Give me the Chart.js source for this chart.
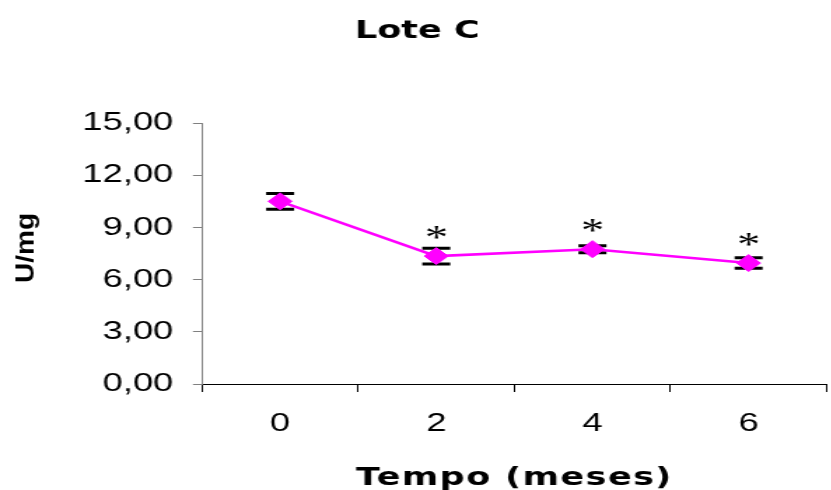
<!DOCTYPE html>
<html>
<head>
<meta charset="utf-8">
<script src="https://cdn.jsdelivr.net/npm/chart.js@4.4.1/dist/chart.umd.min.js"></script>
<style>
html, body { margin: 0; padding: 0; overflow: hidden; background: #fff; }
/* a figura original foi esticada na horizontal */
#wrap { width: 600px; height: 490px; transform: scaleX(1.4); transform-origin: 0 0; }
</style>
</head>
<body>
<div id="wrap"><canvas id="grafico" width="600" height="490"></canvas></div>
<script>
const tempos = ['0', '2', '4', '6'];
const atividade = [10.5, 7.35, 7.75, 6.95];
const desvios = [0.45, 0.45, 0.2, 0.3];
const marcas = ['', '*', '*', '*'];
const yTicks = [0, 3, 6, 9, 12, 15];
const yTickLabels = ['0,00', '3,00', '6,00', '9,00', '12,00', '15,00'];

const extras = {
	id: 'extras',
	beforeDatasetsDraw(chart) {
		const ctx = chart.ctx, x = chart.scales.x, y = chart.scales.y;
		ctx.save();
		ctx.strokeStyle = '#000';
		atividade.forEach((v, i) => {
			const px = x.getPixelForValue(i);
			const top = y.getPixelForValue(v + desvios[i]);
			const bot = y.getPixelForValue(v - desvios[i]);
			ctx.lineWidth = 1.5;
			ctx.beginPath();
			ctx.moveTo(px, top);
			ctx.lineTo(px, bot);
			ctx.stroke();
			ctx.lineWidth = 3;
			ctx.beginPath();
			ctx.moveTo(px - 10, top);
			ctx.lineTo(px + 10, top);
			ctx.moveTo(px - 10, bot);
			ctx.lineTo(px + 10, bot);
			ctx.stroke();
		});
		ctx.restore();
	},
	afterDraw(chart) {
		const ctx = chart.ctx, area = chart.chartArea, x = chart.scales.x, y = chart.scales.y;
		ctx.save();
		ctx.fillStyle = '#000';
		ctx.textAlign = 'center';
		ctx.textBaseline = 'alphabetic';
		ctx.font = 'bold 25px "DejaVu Sans"';
		ctx.fillText('Lote C', 298, 38);
		ctx.letterSpacing = '1px';
		ctx.fillText('Tempo (meses)', (area.left + area.right) / 2, 485);
		ctx.letterSpacing = '0px';

		// asteriscos acima dos pontos
		ctx.font = '33px "Liberation Serif"';
		marcas.forEach((m, i) => {
			if (!m) return;
			const px = x.getPixelForValue(i);
			const cy = y.getPixelForValue(atividade[i]) - 24;
			const mt = ctx.measureText(m);
			ctx.fillText(m, px, cy + (mt.actualBoundingBoxAscent - mt.actualBoundingBoxDescent) / 2);
		});

		// titulo do eixo y
		ctx.font = 'bold 28px "Liberation Sans"';
		ctx.translate(23.6, 248);
		ctx.scale(0.68, 1);
		ctx.rotate(-Math.PI / 2);
		ctx.fillText('U/mg', 0, 0);
		ctx.restore();
	}
};

let grafico = new Chart(document.getElementById('grafico'), {
	type: 'line',
	data: {
		labels: tempos,
		datasets: [{
			data: atividade,
			borderColor: '#FF00FF',
			backgroundColor: '#FF00FF',
			borderWidth: 2.5,
			pointStyle: 'rectRot',
			pointRadius: 8.5,
			pointBorderWidth: 1,
			tension: 0
		}]
	},
	options: {
		responsive: false,
		animation: false,
		devicePixelRatio: 1,
		layout: { padding: { top: 123, right: 2.3, left: 0, bottom: 0 } },
		plugins: { legend: { display: false }, tooltip: { enabled: false } },
		scales: {
			x: {
				offset: true,
				grid: { offset: true, drawOnChartArea: false, tickLength: 8, color: '#000' },
				border: { color: '#000', width: 1 },
				ticks: { padding: 16, color: '#000', font: { family: 'Liberation Sans', size: 26 } },
				afterFit(s) { s.height = 106; }
			},
			y: {
				min: 0,
				max: 15,
				afterBuildTicks(s) { s.ticks = yTicks.map(v => ({ value: v })); },
				grid: { drawOnChartArea: false, tickLength: 6.5, color: '#808080' },
				border: { color: '#808080', width: 1 },
				ticks: {
					padding: 14,
					color: '#000',
					font: { family: 'Liberation Sans', size: 26 },
					callback: (v, i) => yTickLabels[i]
				},
				afterFit(s) { s.width = 144.3; }
			}
		}
	},
	plugins: [extras]
});
</script>
</body>
</html>
